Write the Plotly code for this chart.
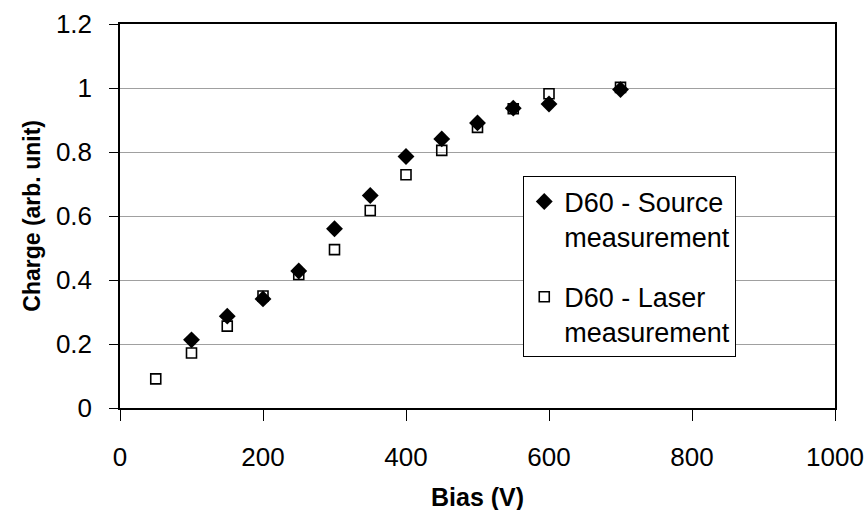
import plotly.graph_objects as go

bias_source = [100, 150, 200, 250, 300, 350, 400, 450, 500, 550, 600, 700]
charge_source = [0.213, 0.287, 0.341, 0.428, 0.560, 0.664, 0.786, 0.841, 0.891, 0.937, 0.950, 0.995]

bias_laser = [50, 100, 150, 200, 250, 300, 350, 400, 450, 500, 550, 600, 700]
charge_laser = [0.091, 0.172, 0.256, 0.350, 0.417, 0.495, 0.617, 0.729, 0.805, 0.877, 0.935, 0.982, 1.002]

x_ticks = [0, 200, 400, 600, 800, 1000]
y_ticks = [0, 0.2, 0.4, 0.6, 0.8, 1.0, 1.2]
y_ticklabels = ["0", "0.2", "0.4", "0.6", "0.8", "1", "1.2"]

FONT = "Liberation Sans, Arial, sans-serif"

fig = go.Figure()
fig.add_trace(go.Scatter(
    x=bias_source, y=charge_source, mode="markers",
    name="D60 - Source<br>measurement", legendgroup="source",
    marker=dict(symbol="diamond", size=13, color="black", line=dict(width=0)),
))
fig.add_trace(go.Scatter(
    x=bias_laser, y=charge_laser, mode="markers",
    name="D60 - Laser<br>measurement", legendgroup="laser",
    marker=dict(symbol="square-open", size=10, color="black", line=dict(width=1.6)),
))

fig.update_layout(
    width=864, height=510,
    margin=dict(l=120, r=29, t=24, b=102, autoexpand=False),
    paper_bgcolor="white", plot_bgcolor="white",
    font=dict(family=FONT, size=26, color="black"),
    showlegend=True,
    legend=dict(
        x=0.564, y=0.603, xanchor="left", yanchor="top",
        bordercolor="black", borderwidth=1, bgcolor="white",
        font=dict(family=FONT, size=27, color="black"),
        valign="top", tracegroupgap=22, itemwidth=30,
    ),
    xaxis=dict(
        range=[0, 1000], tickvals=x_ticks, ticks="outside", ticklen=11,
        tickcolor="black", showline=True, linecolor="black", linewidth=1.5,
        mirror=True, showgrid=False, zeroline=False, automargin=False,
        ticklabelstandoff=14, tickfont=dict(family=FONT, size=26),
    ),
    yaxis=dict(
        range=[0, 1.2], tickvals=y_ticks, ticktext=y_ticklabels,
        ticks="outside", ticklen=9, tickcolor="black",
        showline=True, linecolor="black", linewidth=1.5, mirror=True,
        showgrid=True, gridcolor="#a0a0a0", gridwidth=1, zeroline=False,
        automargin=False,
        ticklabelstandoff=12, tickfont=dict(family=FONT, size=26),
    ),
    annotations=[
        dict(text="<b>Bias (V)</b>", x=0.5, y=-0.233, xref="paper", yref="paper",
             xanchor="center", yanchor="middle", showarrow=False,
             font=dict(family=FONT, size=25)),
        dict(text="<b>Charge (arb. unit)</b>", x=-0.1224, y=0.502, xref="paper", yref="paper",
             xanchor="center", yanchor="middle", showarrow=False, textangle=-90,
             font=dict(family=FONT, size=23)),
    ],
)

# remove the default 8px body margin so the 864x510 figure fills the window exactly
fig.write_html(
    "out.html",
    config={"displayModeBar": False},
    post_script="document.body.style.margin='0';document.body.style.overflow='hidden';",
)
